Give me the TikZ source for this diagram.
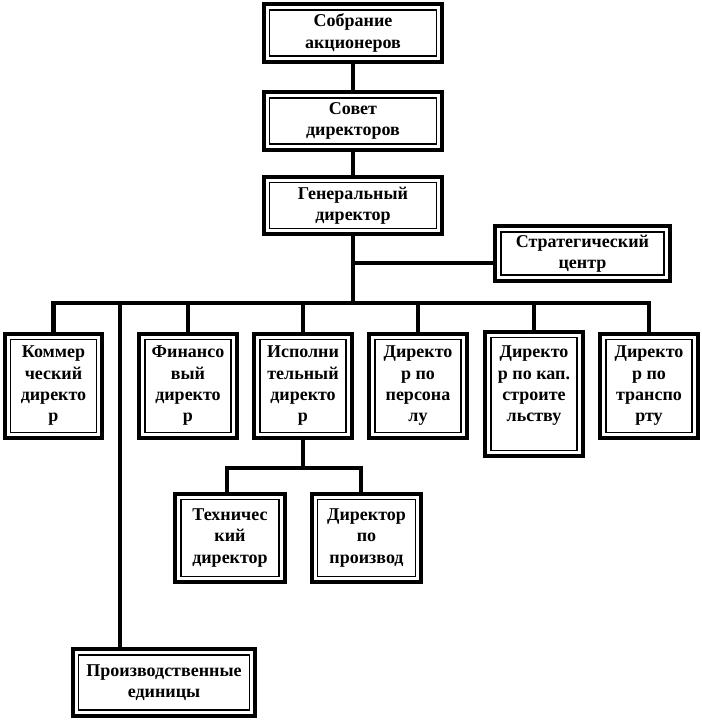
\documentclass[tikz,border=0pt]{standalone}
\usepackage{fontspec}
\setmainfont{Liberation Serif}
\newfontfamily\chartfont{Liberation Serif}[BoldFont={* Bold}]
\begin{document}
\begin{tikzpicture}[
    x=0.75pt, y=-0.75pt,
    every node/.style={align=center, font=\chartfont\bfseries\fontsize{13.5}{16}\selectfont},
    unitbox/.style={draw, line width=3pt, inner sep=0pt, minimum width=73pt, minimum height=78pt,
      path picture={\draw[line width=1.1pt]
        ([shift={(4.3pt,-4.3pt)}]path picture bounding box.north west) rectangle
        ([shift={(-4.3pt,4.3pt)}]path picture bounding box.south east);}},
    headbox/.style={unitbox, minimum width=134pt, minimum height=43pt},
    subbox/.style={unitbox, minimum width=82pt, minimum height=66pt},
    link/.style={line width=3.2pt}
  ]
  \useasboundingbox (0,0) rectangle (702,722);
  % top of the chart
  \node[headbox] (sobr) at (353,33) {Собрание\\акционеров};
  \node[headbox] (sovet) at (353,121) {Совет\\директоров};
  \node[headbox] (gen) at (353,205.5) {Генеральный\\директор};
  \node[headbox, minimum width=131pt, minimum height=41pt] (strat) at (582.5,253.5) {Стратегический\\центр};
  % directors
  \node[unitbox] (kom) at (53.5,386) {Коммер\\ческий\\директо\\р};
  \node[unitbox] (fin) at (188,386) {Финансо\\вый\\директо\\р};
  \node[unitbox] (isp) at (303,386) {Исполни\\тельный\\директо\\р};
  \node[unitbox] (pers) at (418,386) {Директо\\р по\\персона\\лу};
  \node[unitbox, minimum height=93pt, text depth=15pt] (kap) at (534,394) {Директо\\р по кап.\\строите\\льству};
  \node[unitbox] (trans) at (649,386) {Директо\\р по\\транспо\\рту};
  \node[subbox] (tech) at (230,538) {Техничес\\кий\\директор};
  \node[subbox] (proizv) at (366.5,538) {Директор\\по\\производ};
  \node[headbox, minimum width=136.5pt, minimum height=50pt] (prod) at (164,682.5) {Производственные\\единицы};
  % connectors
  \coordinate (bus) at (353,303);
  \coordinate (sc) at (353,263);
  \coordinate (pb) at (120,303);
  \coordinate (ib) at (303,468);
  \coordinate (tl) at (227,468);
  \coordinate (pl) at (361,468);
  \draw[link] (sobr) -- (sovet);
  \draw[link] (sovet) -- (gen);
  \draw[link] (gen.south) -- (bus);
  \draw[link] (sc) -- (sc -| strat.west);
  \draw[link] (kom.north) |- (bus) -| (trans.north);
  \draw[link] (fin.north) -- (fin.north |- bus);
  \draw[link] (isp.north) -- (isp.north |- bus);
  \draw[link] (pers.north) -- (pers.north |- bus);
  \draw[link] (kap.north) -- (kap.north |- bus);
  \draw[link] (pb) -- (pb |- prod.north);
  \draw[link] (isp.south) -- (ib);
  \draw[link] (tl |- tech.north) -- (tl) -- (pl) -- (pl |- proizv.north);
\end{tikzpicture}
\end{document}
